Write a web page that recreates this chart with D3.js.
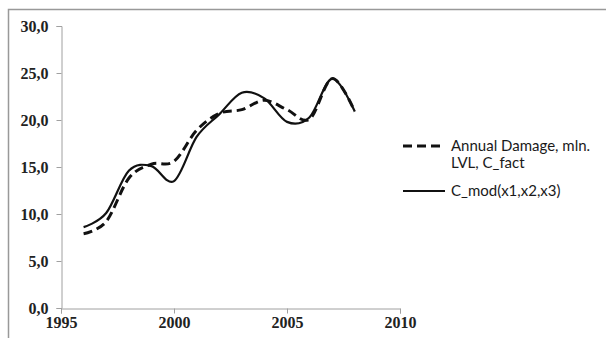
<!DOCTYPE html>
<html>
<head>
<meta charset="utf-8">
<script src="https://cdn.jsdelivr.net/npm/d3@7"></script>
<style>
  body { margin: 0; background: #fff; }
</style>
</head>
<body>
<svg id="svg" width="606" height="338"></svg>
<script>
// data
let years = [1996, 1997, 1998, 1999, 2000, 2001, 2002, 2003, 2004, 2005, 2006, 2007, 2008];
let cFact = [7.9, 9.2, 13.8, 15.3, 15.6, 18.9, 20.7, 21.1, 22.1, 21.1, 20.1, 24.4, 20.9];
let cMod = [8.6, 10.1, 14.6, 15.1, 13.5, 18.2, 20.6, 22.9, 22.3, 19.8, 20.3, 24.4, 20.9];
let xTicks = [1995, 2000, 2005, 2010];
let yTicks = [0, 5, 10, 15, 20, 25, 30];
let legendLabels = [['Annual Damage, mln.', 'LVL, C_fact'], ['C_mod(x1,x2,x3)']];

let svg = d3.select('#svg');

// outer frame
svg.append('rect')
    .attr('x', 8.5).attr('y', 9.5)
    .attr('width', 620).attr('height', 340)
    .attr('fill', 'none')
    .attr('stroke', '#999')
    .attr('stroke-width', 1.5);

let xScale = d3.scaleLinear().domain([1995, 2010]).range([61, 400]);
let yScale = d3.scaleLinear().domain([0, 30]).range([308, 26]);

let fmt = d => d.toFixed(1).replace('.', ',');

// y axis
let yAxis = svg.append('g')
    .attr('transform', 'translate(61.5,0)')
    .call(d3.axisLeft(yScale).tickValues(yTicks).tickFormat(fmt).tickSize(5).tickPadding(8));

// x axis
let xAxis = svg.append('g')
    .attr('transform', 'translate(0,308.5)')
    .call(d3.axisBottom(xScale).tickValues(xTicks).tickFormat(d3.format('d')).tickSize(5).tickPadding(3));

[yAxis, xAxis].forEach(ax => {
    ax.select('.domain').attr('stroke', '#a0a0a0');
    ax.selectAll('.tick line').attr('stroke', '#a0a0a0');
    ax.selectAll('.tick text')
        .attr('fill', '#222')
        .attr('font-family', '"Liberation Serif", "Times New Roman", serif')
        .attr('font-weight', 'bold')
        .attr('font-size', '16px');
});

let line = d3.line()
    .x((d, i) => xScale(years[i]))
    .y(d => yScale(d))
    .curve(d3.curveCardinal.tension(0));

svg.append('path')
    .datum(cMod)
    .attr('d', line)
    .attr('fill', 'none')
    .attr('stroke', '#111')
    .attr('stroke-width', 2.2);

svg.append('path')
    .datum(cFact)
    .attr('d', line)
    .attr('fill', 'none')
    .attr('stroke', '#111')
    .attr('stroke-width', 3)
    .attr('stroke-dasharray', '9,5');

// legend
let legend = svg.append('g').attr('font-family', 'Lato, "Open Sans", sans-serif')
    .attr('font-size', '15px').attr('fill', '#1a1a1a');

let legendY = [146, 191];
legendLabels.forEach((lines, i) => {
    legend.append('line')
        .attr('x1', 403).attr('x2', 445)
        .attr('y1', legendY[i]).attr('y2', legendY[i])
        .attr('stroke', '#111')
        .attr('stroke-width', i == 0 ? 3 : 2.2)
        .attr('stroke-dasharray', i == 0 ? '9,5' : null);
    lines.forEach((t, j) => {
        legend.append('text')
            .attr('x', 451)
            .attr('y', legendY[i] + 5 + j * 17)
            .text(t);
    });
});
</script>
</body>
</html>
